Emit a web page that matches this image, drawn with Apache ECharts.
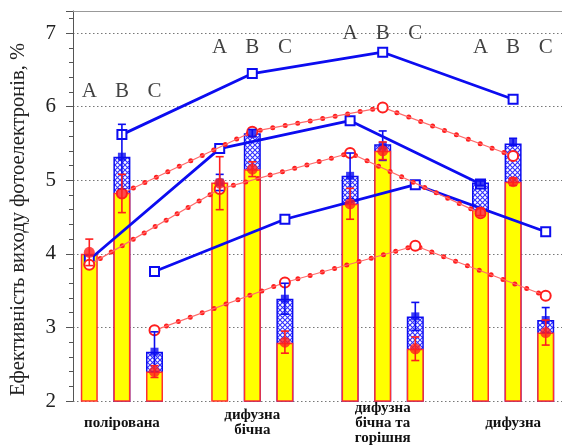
<!DOCTYPE html>
<html><head><meta charset="utf-8">
<script src="https://cdn.jsdelivr.net/npm/echarts@6/dist/echarts.min.js"></script>
<style>html,body{margin:0;padding:0;background:#fff}#c{width:562px;height:448px}</style>
</head><body><div id="c"></div>
<script>
// ---- data ----
const groups = ['полірована', 'дифузна\nбічна', 'дифузна\nбічна та\nгорішня', 'дифузна'];
const letters = ['A', 'B', 'C'];
const letterLevel = [6.2, 6.8, 7.0, 6.8];
// 15 slots: group g, letter k -> g*4+k (slots 3,7,11 are gaps)
const yellowTop = [4.00, 4.83, 2.40, 2.0, 4.97, 5.15, 2.79, 2.0, 4.68, 5.40, 2.71, 2.0, 4.60, 4.98, 2.93];
const hatchTop  = [null, 5.32, 2.67, null, null, 5.64, 3.39, null, 5.06, 5.49, 3.15, null, 4.97, 5.50, 3.10];
const redMean   = [4.02, 4.82, 2.40, null, 4.96, 5.15, 2.80, null, 4.68, 5.40, 2.71, null, 4.57, 4.98, 2.93];
const redErr    = [0.18, 0.26, 0.08, null, 0.36, 0.10, 0.15, null, 0.21, 0.12, 0.16, null, 0.05, 0.05, 0.17];
const blueMean  = [null, 5.32, 2.67, null, 4.97, 5.64, 3.39, null, 5.06, 5.47, 3.15, null, 4.96, 5.52, 3.10];
const blueErr   = [null, 0.44, 0.27, null, 0.11, 0.05, 0.21, null, 0.31, 0.20, 0.19, null, 0.03, 0.05, 0.17];
// connecting lines, one value per group (A, B, C)
const blueA = [3.92, 5.43, 5.81, 4.95];
const blueB = [5.62, 6.45, 6.74, 6.10];
const blueC = [3.76, 4.47, 4.94, 4.30];
const redA  = [3.85, 4.88, 5.37, 4.55];
const redB  = [4.82, 5.66, 5.99, 5.33];
const redC  = [2.96, 3.61, 4.11, 3.43];
const yTicks = [2, 3, 4, 5, 6, 7];
const yName = 'Ефективність виходу фотоелектронів, %';

// ---- build ----
const NS = 15;
const slotLabels = [];
for (let i = 0; i < NS; i++) slotLabels.push('');
groups.forEach((g, gi) => { slotLabels[gi * 4 + 1] = g; });

const BLUE = '#0c0cf0', RED = '#ff1e1e';
const pc = document.createElement('canvas');
pc.width = 5; pc.height = 5;
const ctx = pc.getContext('2d');
ctx.fillStyle = '#fff'; ctx.fillRect(0, 0, 5, 5);
ctx.strokeStyle = '#3030ff'; ctx.lineWidth = 1.1;
ctx.beginPath(); ctx.moveTo(0, 0); ctx.lineTo(5, 5); ctx.moveTo(5, 0); ctx.lineTo(0, 5); ctx.stroke();

function lineData(arr, k) { return arr.map((v, g) => [g * 4 + k, v]); }
function errData(m, e) { return m.map((v, i) => v == null ? null : [i, v, e[i]]).filter(Boolean); }
function ptData(m) { return m.map((v, i) => v == null ? null : [i, v]).filter(Boolean); }
function errRender(color) {
  return function (params, api) {
    const x = api.value(0), m = api.value(1), e = api.value(2);
    const t = api.coord([x, m + e]), b = api.coord([x, m - e]);
    const hw = 4, st = { stroke: color, lineWidth: 1.6 };
    return { type: 'group', children: [
      { type: 'line', shape: { x1: t[0], y1: t[1], x2: b[0], y2: b[1] }, style: st },
      { type: 'line', shape: { x1: t[0] - hw, y1: t[1], x2: t[0] + hw, y2: t[1] }, style: st },
      { type: 'line', shape: { x1: b[0] - hw, y1: b[1], x2: b[0] + hw, y2: b[1] }, style: st }
    ] };
  };
}
const letterData = [];
groups.forEach((g, gi) => letters.forEach((L, k) => letterData.push([gi * 4 + k, letterLevel[gi], L])));

const blueLine = (arr, k) => ({
  type: 'line', data: lineData(arr, k), symbol: 'emptyRect', symbolSize: 9,
  lineStyle: { color: BLUE, width: 2.8 }, itemStyle: { color: BLUE, borderWidth: 1.7 }, z: 4
});
const redThin = (arr, k) => ({
  type: 'line', data: lineData(arr, k), symbol: 'emptyCircle', symbolSize: 10,
  lineStyle: { color: '#ff6a6a', width: 1.2 }, itemStyle: { color: RED, borderWidth: 2 }, z: 6
});
const redDots = (arr, k) => ({
  type: 'line', data: lineData(arr, k), symbol: 'none',
  lineStyle: { color: RED, width: 5, type: [0, 12.7], cap: 'round' }, z: 5
});

const chart = echarts.init(document.getElementById('c'));
chart.setOption({
  animation: false,
  grid: { left: 73, top: 11, width: 496.5, bottom: 47 },
  xAxis: [{
    type: 'category', data: slotLabels, boundaryGap: true,
    axisLine: { show: false }, axisTick: { show: false },
    axisLabel: { interval: 0, fontFamily: 'Liberation Serif', fontWeight: 'bold', fontSize: 15,
      lineHeight: 15, color: '#111', verticalAlign: 'middle', margin: 22 }
  }, {
    type: 'category', data: slotLabels, position: 'top',
    axisLine: { show: true, lineStyle: { color: '#999', width: 1.2 } },
    axisTick: { show: false }, axisLabel: { show: false }
  }],
  yAxis: {
    type: 'value', min: yTicks[0], max: 7.3, interval: 1,
    axisLine: { show: true, lineStyle: { color: '#555', width: 1 } },
    axisTick: { show: true, length: 7, lineStyle: { color: '#555' } },
    minorTick: { show: true, splitNumber: 5, length: 4, lineStyle: { color: '#555' } },
    axisLabel: { fontFamily: 'Liberation Serif', fontSize: 21, color: '#222', margin: 17, showMaxLabel: false },
    splitLine: { show: true, showMaxLine: false, lineStyle: { type: [1.5, 2.5], color: '#777' } },
    name: yName, nameLocation: 'middle', nameGap: 44,
    nameTextStyle: { fontFamily: 'Liberation Serif', fontSize: 20.5, color: '#222', padding: [0, 27, 0, 0] }
  },
  series: [
    { type: 'bar', data: hatchTop, barWidth: 17, barGap: '-100%',
      itemStyle: { color: { image: pc, repeat: 'repeat' }, borderColor: BLUE, borderWidth: 1.5 }, z: 2 },
    { type: 'bar', data: yellowTop, barWidth: 17, barGap: '-100%',
      itemStyle: { color: '#ffff00', borderColor: '#ff3030', borderWidth: 1.5 }, z: 3 },
    blueLine(blueA, 0), blueLine(blueB, 1), blueLine(blueC, 2),
    redDots(redA, 0), redDots(redB, 1), redDots(redC, 2),
    redThin(redA, 0), redThin(redB, 1), redThin(redC, 2),
    { type: 'custom', data: errData(blueMean, blueErr), renderItem: errRender(BLUE), z: 7 },
    { type: 'scatter', data: ptData(blueMean), symbol: 'rect', symbolSize: 8, itemStyle: { color: BLUE }, z: 8 },
    { type: 'custom', data: errData(redMean, redErr), renderItem: errRender(RED), z: 9 },
    { type: 'scatter', data: ptData(redMean), symbol: 'circle', symbolSize: 11, itemStyle: { color: RED }, z: 10 },
    { type: 'scatter', data: letterData, symbolSize: 1, itemStyle: { color: 'rgba(0,0,0,0)' },
      label: { show: true, position: 'inside', formatter: p => p.value[2],
        fontFamily: 'Liberation Serif', fontSize: 21, color: '#111' }, z: 11 }
  ]
});
</script></body></html>
